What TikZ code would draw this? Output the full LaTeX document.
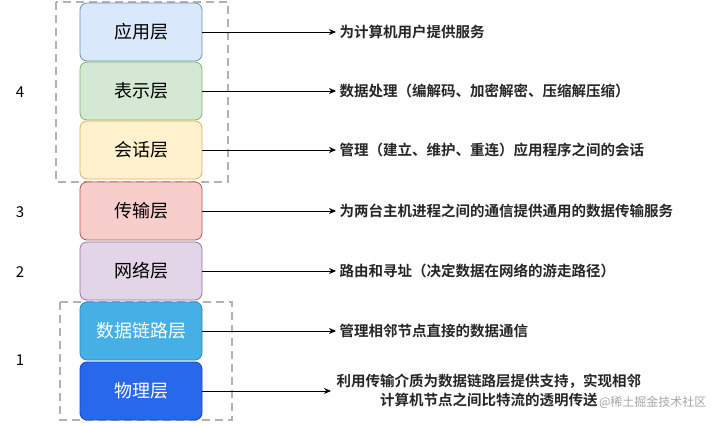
\documentclass[tikz,border=0pt]{standalone}
\usepackage{fontspec}
\setmainfont{Noto Sans CJK SC}[BoldFont={Noto Sans CJK SC Bold}]
\usetikzlibrary{arrows.meta}
\definecolor{f7}{HTML}{DAE8FC}\definecolor{b7}{HTML}{6C8EBF}
\definecolor{f6}{HTML}{D5E8D4}\definecolor{b6}{HTML}{82B366}
\definecolor{f5}{HTML}{FFF2CC}\definecolor{b5}{HTML}{D6B656}
\definecolor{f4}{HTML}{F8CECC}\definecolor{b4}{HTML}{B85450}
\definecolor{f3}{HTML}{E1D5E7}\definecolor{b3}{HTML}{9673A6}
\definecolor{f2}{HTML}{46AFE6}\definecolor{b2}{HTML}{288CC8}
\definecolor{f1}{HTML}{2869EB}\definecolor{b1}{HTML}{1446C8}
\begin{document}
\begin{tikzpicture}[x=1pt,y=-1pt,
  layer/.style={draw=b#1,fill=f#1,line width=0.8pt,rounded corners=7pt,minimum width=122pt,minimum height=58pt,font=\fontsize{18}{22}\selectfont},
  desc/.style={anchor=west,font=\fontsize{14.5}{19}\selectfont\bfseries,text=black!85},
  arr/.style={-{Stealth[length=7pt,width=6pt]},line width=0.8pt},
  grp/.style={draw=black!30,dash pattern=on 8pt off 5pt,line width=1.5pt},
  num/.style={font=\fontsize{15}{17}\selectfont}]
\useasboundingbox[fill=white] (0,0) rectangle (713,425);
\draw[grp] (56,2) rectangle (228,182);
\draw[grp] (60,302) rectangle (232,420);
\node[layer=7] (l7) at (141,32) {应用层};
\node[layer=6] (l6) at (141,91) {表示层};
\node[layer=5] (l5) at (141,150) {会话层};
\node[layer=4] (l4) at (141,211) {传输层};
\node[layer=3] (l3) at (141,271) {网络层};
\node[layer=2,text=white] (l2) at (141,331) {数据链路层};
\node[layer=1,text=white] (l1) at (141,391) {物理层};
\node[num] (n4) at (20,92) {4};
\node[num] (n3) at (20,212) {3};
\node[num] (n2) at (20,272) {2};
\node[num] (n1) at (20,360) {1};
\node[desc] (d7) at (336,32) {为计算机用户提供服务};
\node[desc] (d6) at (336,91) {数据处理（编解码、加密解密、压缩解压缩）};
\node[desc] (d5) at (336,150) {管理（建立、维护、重连）应用程序之间的会话};
\node[desc] (d4) at (336,211) {为两台主机进程之间的通信提供通用的数据传输服务};
\node[desc] (d3) at (336,271) {路由和寻址（决定数据在网络的游走路径）};
\node[desc] (d2) at (336,331) {管理相邻节点直接的数据通信};
\node[desc,align=center] (d1) at (333,390) {利用传输介质为数据链路层提供支持，实现相邻\\计算机节点之间比特流的透明传送};
\foreach \i in {7,6,5,4,3,2}{\draw[arr] (l\i.east) -- (d\i.west);}
\coordinate (e1) at (331,391);
\draw[arr] (l1.east) -- (e1);
\node[anchor=east,font=\fontsize{12}{14}\selectfont,text=black!35] (wm) at (710,402) {@稀土掘金技术社区};
\end{tikzpicture}
\end{document}
